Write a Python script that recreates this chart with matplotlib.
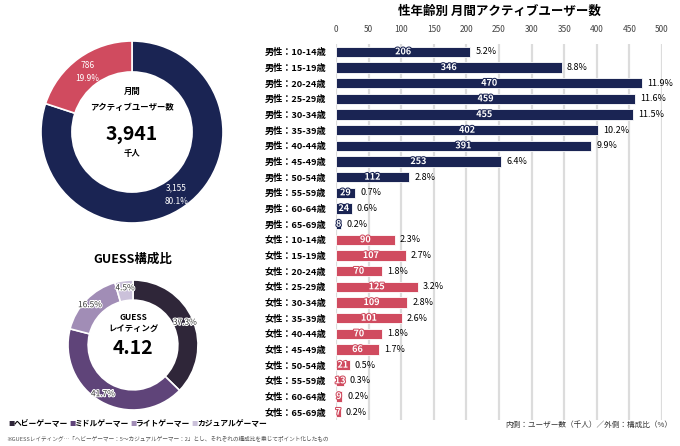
import matplotlib

matplotlib.use("Agg")
import matplotlib.pyplot as plt
import matplotlib.patheffects as pe

plt.rcParams["font.family"] = ["Noto Sans CJK JP", "DejaVu Sans"]

NAVY = "#1a2453"
PINK = "#d04b5f"

# monthly active users (thousand) by gender
mau_labels = ["男性", "女性"]
mau_values = [3155, 786]
mau_pct = [80.1, 19.9]
mau_total = "3,941"

# GUESS composition
guess_labels = ["ヘビーゲーマー", "ミドルゲーマー", "ライトゲーマー", "カジュアルゲーマー"]
guess_pct = [37.3, 41.7, 16.5, 4.5]
guess_colors = ["#2f2639", "#5f4479", "#a18db6", "#cbc1da"]
guess_rating = "4.12"

# by gender x age
ages = ["10-14", "15-19", "20-24", "25-29", "30-34", "35-39",
        "40-44", "45-49", "50-54", "55-59", "60-64", "65-69"]
male_users = [206, 346, 470, 459, 455, 402, 391, 253, 112, 29, 24, 8]
male_pct = [5.2, 8.8, 11.9, 11.6, 11.5, 10.2, 9.9, 6.4, 2.8, 0.7, 0.6, 0.2]
female_users = [90, 107, 70, 125, 109, 101, 70, 66, 21, 13, 9, 7]
female_pct = [2.3, 2.7, 1.8, 3.2, 2.8, 2.6, 1.8, 1.7, 0.5, 0.3, 0.2, 0.2]

W, H = 680, 446
fig = plt.figure(figsize=(W / 100, H / 100), dpi=100)


def px_axes(x0, y0, x1, y1):
    """axes from pixel box (top-left origin)"""
    return fig.add_axes([x0 / W, 1 - y1 / H, (x1 - x0) / W, (y1 - y0) / H])


def donut_limits(ax):
    ax.set_xlim(-1, 1)
    ax.set_ylim(-1, 1)
    ax.set_aspect("equal")


# --- MAU donut ---------------------------------------------------------- #
ax1 = px_axes(41, 41, 223, 223)
ax1.pie(mau_values, colors=[NAVY, PINK], startangle=90, counterclock=False,
        wedgeprops=dict(width=0.34, edgecolor="white", linewidth=1.2))
donut_limits(ax1)
ax1.text(-0.49, 0.66, f"{mau_values[1]}\n{mau_pct[1]}%", color="white", fontsize=6,
         ha="center", va="center", linespacing=1.6)
ax1.text(0.49, -0.69, f"{mau_values[0]:,}\n{mau_pct[0]}%", color="white", fontsize=6,
         ha="center", va="center", linespacing=1.6)
ax1.text(0, 0.44, "月間", fontsize=6, fontweight="bold", ha="center", va="center")
ax1.text(0, 0.27, "アクティブユーザー数", fontsize=6, fontweight="bold", ha="center", va="center")
ax1.text(0, -0.03, mau_total, fontsize=14, fontweight="bold", ha="center", va="center")
ax1.text(0, -0.24, "千人", fontsize=6, fontweight="bold", ha="center", va="center")

# --- GUESS donut -------------------------------------------------------- #
ax2 = px_axes(68, 280, 198, 410)
ax2.pie(guess_pct, colors=guess_colors, startangle=90, counterclock=False,
        wedgeprops=dict(width=0.31, edgecolor="white", linewidth=1.2))
donut_limits(ax2)
stroke = [pe.withStroke(linewidth=1.5, foreground="white")]
guess_pos = [(0.80, 0.35), (-0.46, -0.75), (-0.66, 0.62), (-0.12, 0.88)]
for (x, y), p in zip(guess_pos, guess_pct):
    ax2.text(x, y, f"{p}%", fontsize=6, ha="center", va="center",
             color="#333333", path_effects=stroke)
fig.text(133 / W, 1 - 259 / H, "GUESS構成比", fontsize=9, fontweight="bold",
         ha="center", va="center")
ax2.text(0, 0.43, "GUESS", fontsize=6, fontweight="bold", ha="center", va="center")
ax2.text(0, 0.25, "レイティング", fontsize=6, fontweight="bold", ha="center", va="center")
ax2.text(0, -0.05, guess_rating, fontsize=14, fontweight="bold", ha="center", va="center")

# legend row + footnote
legend_x = [8, 69, 130, 191]
for x, lab, c in zip(legend_x, guess_labels, guess_colors):
    fig.text(x / W, 1 - 424 / H, "■", color=c, fontsize=4.5, ha="left", va="center")
    fig.text((x + 6) / W, 1 - 424 / H, lab, fontsize=5.6, fontweight="bold",
             ha="left", va="center")
fig.text(6 / W, 1 - 438 / H,
         "※GUESSレイティング…「ヘビーゲーマー：5～カジュアルゲーマー：2」とし、"
         "それぞれの構成比を乗じてポイント化したもの",
         fontsize=4.1, color="#555555", ha="left", va="center")

# --- bar chart ---------------------------------------------------------- #
labels = [f"男性：{a}歳" for a in ages] + [f"女性：{a}歳" for a in ages]
users = male_users + female_users
pcts = male_pct + female_pct
colors = [NAVY] * len(male_users) + [PINK] * len(female_users)

ax3 = px_axes(336, 44, 662, 420)
ys = list(range(len(users)))
ax3.barh(ys, users, height=0.64, color=colors, edgecolor="white", linewidth=0.6, zorder=3)
ax3.set_ylim(len(users) - 0.5, -0.5)
ax3.set_xlim(0, 500)
ax3.set_xticks(range(0, 501, 50))
ax3.xaxis.tick_top()
ax3.tick_params(axis="x", length=0, labelsize=6, colors="#444444", pad=7)
ax3.tick_params(axis="y", length=0, labelsize=6.6, pad=7)
ax3.set_yticks(ys)
ax3.set_yticklabels(labels, fontweight="bold")
ax3.grid(True, axis="x", color="#dcdcdc", lw=1.6, zorder=0)
ax3.set_axisbelow(True)
for s in ax3.spines.values():
    s.set_visible(False)
for y, v, p, c in zip(ys, users, pcts, colors):
    ax3.text(v / 2, y, str(v), color="white", fontsize=6.5, fontweight="bold",
             ha="center", va="center", zorder=4,
             path_effects=[pe.withStroke(linewidth=1.5, foreground=c)])
    ax3.text(v + 8, y, f"{p}%", fontsize=6.5, ha="left", va="center", zorder=4)
ax3.set_title("性年齢別 月間アクティブユーザー数", fontsize=9, fontweight="bold", pad=21)

fig.text(672 / W, 1 - 425 / H, "内側：ユーザー数（千人）／外側：構成比（%）",
         fontsize=5.5, color="#333333", ha="right", va="center")

fig.savefig("out.png", dpi=100, facecolor="white")
